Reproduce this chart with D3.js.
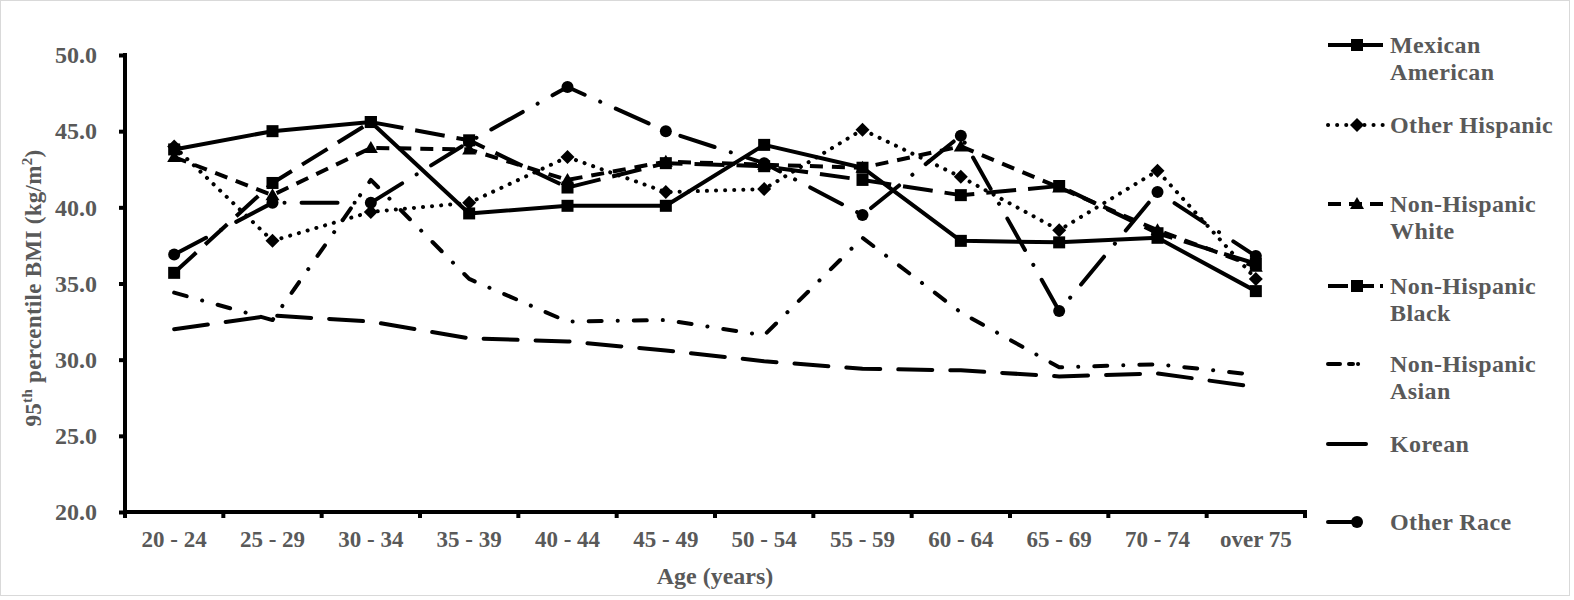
<!DOCTYPE html>
<html>
<head>
<meta charset="utf-8">
<script src="https://cdn.jsdelivr.net/npm/d3@7"></script>
<style>
  html, body { margin: 0; padding: 0; background: #fff; }
  svg { display: block; }
  text { font-family: "Liberation Serif", "Times New Roman", serif; font-weight: bold; fill: #595959; }
</style>
</head>
<body>
<svg id="chart" width="1574" height="600"></svg>
<script>
const categories = ["20 - 24","25 - 29","30 - 34","35 - 39","40 - 44","45 - 49","50 - 54","55 - 59","60 - 64","65 - 69","70 - 74","over 75"];
const yTicks = [20, 25, 30, 35, 40, 45, 50];

const mexicanAmerican  = [43.8, 45.0, 45.6, 39.6, 40.1, 40.1, 44.1, 42.6, 37.8, 37.7, 38.0, 34.5];
const otherHispanic    = [44.0, 37.8, 39.7, 40.3, 43.3, 41.0, 41.2, 45.1, 42.0, 38.5, 42.4, 35.3];
const nonHispanicWhite = [43.3, 40.8, 43.9, 43.8, 41.8, 43.0, 42.8, 42.6, 44.0, 41.3, 38.5, 36.1];
const nonHispanicBlack = [35.7, 41.6, 45.6, 44.4, 41.3, 42.9, 42.7, 41.8, 40.8, 41.4, 38.3, 36.3];
const nonHispanicAsian = [34.4, 32.6, 41.8, 35.3, 32.5, 32.6, 31.6, 38.0, 33.1, 29.5, 29.7, 29.0];
const korean           = [32.0, 32.9, 32.5, 31.4, 31.2, 30.6, 29.9, 29.4, 29.3, 28.9, 29.1, 28.2];
const otherRace        = [36.9, 40.3, 40.3, 44.3, 47.9, 45.0, 42.9, 39.5, 44.7, 33.2, 41.0, 36.8];

const seriesNames = ["Mexican American", "Other Hispanic", "Non-Hispanic White", "Non-Hispanic Black", "Non-Hispanic Asian", "Korean", "Other Race"];
const legendLines = [["Mexican", "American"], ["Other Hispanic"], ["Non-Hispanic", "White"], ["Non-Hispanic", "Black"], ["Non-Hispanic", "Asian"], ["Korean"], ["Other Race"]];

const series = [
  { name: seriesNames[0], values: mexicanAmerican,  dash: null,           cap: "butt",  marker: "square",   lx2: 1383, ldash: null },
  { name: seriesNames[1], values: otherHispanic,    dash: "0.1,9",        cap: "round", marker: "diamond",  lx2: 1383, ldash: "0.1,9" },
  { name: seriesNames[2], values: nonHispanicWhite, dash: "13,9",         cap: "butt",  marker: "triangle", lx2: 1383, ldash: "13,8" },
  { name: seriesNames[3], values: nonHispanicBlack, dash: "30,12",        cap: "butt",  marker: "square",   lx2: 1383, ldash: "20,6" },
  { name: seriesNames[4], values: nonHispanicAsian, dash: "13,16,0.1,16", cap: "round", marker: null,       lx2: 1367, ldash: "12,9,4,5,0.1,20" },
  { name: seriesNames[5], values: korean,           dash: "34,18",        cap: "round", marker: null,       lx2: 1366, ldash: null },
  { name: seriesNames[6], values: otherRace,        dash: "36,17,0.1,17", cap: "round", marker: "circle",   lx2: 1357, ldash: null }
];

const svg = d3.select("#chart");

// outer border
svg.append("rect").attr("x", 0.5).attr("y", 0.5).attr("width", 1569).attr("height", 595)
  .attr("fill", "none").attr("stroke", "#d9d9d9").attr("stroke-width", 1);

const x = d3.scaleBand().domain(categories).range([125, 1305]).paddingInner(0).paddingOuter(0);
const y = d3.scaleLinear().domain([20, 50]).range([512, 55]);
const cx = c => x(c) + x.bandwidth() / 2;

// Y axis
const yAxis = d3.axisLeft(y).tickValues(yTicks).tickFormat(d3.format(".1f")).tickSize(6).tickPadding(22);
const gy = svg.append("g").attr("transform", "translate(125,0)").call(yAxis);
gy.select(".domain").remove();
gy.selectAll(".tick line").attr("stroke", "#000").attr("stroke-width", 4);
gy.selectAll(".tick text").attr("font-size", 24).style("font-family", "Liberation Serif").style("font-weight", "bold").attr("fill", "#595959");
svg.append("line").attr("x1", 125).attr("x2", 125).attr("y1", y(50) - 2).attr("y2", y(20) + 2)
  .attr("stroke", "#000").attr("stroke-width", 4);

// X axis
const xAxis = d3.axisBottom(x).tickSize(0).tickPadding(19);
const gx = svg.append("g").attr("transform", `translate(0,${y(20)})`).call(xAxis);
gx.select(".domain").remove();
gx.selectAll(".tick text").attr("font-size", 23).style("font-family", "Liberation Serif").style("font-weight", "bold").attr("fill", "#595959");
svg.append("line").attr("x1", 123).attr("x2", 1307).attr("y1", y(20)).attr("y2", y(20))
  .attr("stroke", "#000").attr("stroke-width", 4);
const boundaries = categories.map(c => x(c)).concat([x(categories[categories.length - 1]) + x.bandwidth()]);
svg.append("g").selectAll("line").data(boundaries).join("line")
  .attr("x1", d => d).attr("x2", d => d).attr("y1", y(20)).attr("y2", y(20) + 6)
  .attr("stroke", "#000").attr("stroke-width", 4);

// Axis titles
svg.append("text").attr("x", 715).attr("y", 584).attr("text-anchor", "middle").attr("font-size", 24).text("Age (years)");
const yt = svg.append("text").attr("transform", "translate(41,288) rotate(-90)").attr("text-anchor", "middle").attr("font-size", 23).attr("letter-spacing", 0.3);
yt.append("tspan").text("95");
yt.append("tspan").attr("dy", -9).attr("font-size", 15).text("th");
yt.append("tspan").attr("dy", 9).text(" percentile BMI  (kg/m");
yt.append("tspan").attr("dy", -9).attr("font-size", 15).text("2");
yt.append("tspan").attr("dy", 9).text(")");

// markers
function drawMarker(g, type, px, py) {
  if (type === "square") {
    g.append("rect").attr("x", px - 6).attr("y", py - 6).attr("width", 12).attr("height", 12).attr("fill", "#000");
  } else if (type === "diamond") {
    g.append("path").attr("d", `M${px},${py - 7}L${px + 7},${py}L${px},${py + 7}L${px - 7},${py}Z`).attr("fill", "#000");
  } else if (type === "triangle") {
    g.append("path").attr("d", `M${px},${py - 7}L${px + 7},${py + 5}L${px - 7},${py + 5}Z`).attr("fill", "#000");
  } else if (type === "circle") {
    g.append("circle").attr("cx", px).attr("cy", py).attr("r", 6).attr("fill", "#000");
  }
}

const line = d3.line().x((d, i) => cx(categories[i])).y(d => y(d));
const plot = svg.append("g");
series.forEach(s => {
  const g = plot.append("g");
  g.append("path").datum(s.values).attr("d", line).attr("fill", "none").attr("stroke", "#000")
    .attr("stroke-width", 4).attr("stroke-linecap", s.cap).attr("stroke-linejoin", "round")
    .attr("stroke-dasharray", s.dash);
  if (s.marker) s.values.forEach((v, i) => drawMarker(g, s.marker, cx(categories[i]), y(v)));
});

// Legend
const legendY = [45, 125, 204, 286, 364, 444, 522];
const legend = svg.append("g");
series.forEach((s, i) => {
  const ly = legendY[i];
  const g = legend.append("g");
  g.append("line").attr("x1", 1328).attr("x2", s.lx2).attr("y1", ly).attr("y2", ly)
    .attr("stroke", "#000").attr("stroke-width", 4).attr("stroke-linecap", s.cap)
    .attr("stroke-dasharray", s.ldash);
  if (s.marker) drawMarker(g, s.marker, 1357, ly);
  legendLines[i].forEach((t, j) => {
    g.append("text").attr("x", 1390).attr("y", ly + 8 + j * 27).attr("font-size", 24).attr("letter-spacing", 0.4).text(t);
  });
});
</script>
</body>
</html>
